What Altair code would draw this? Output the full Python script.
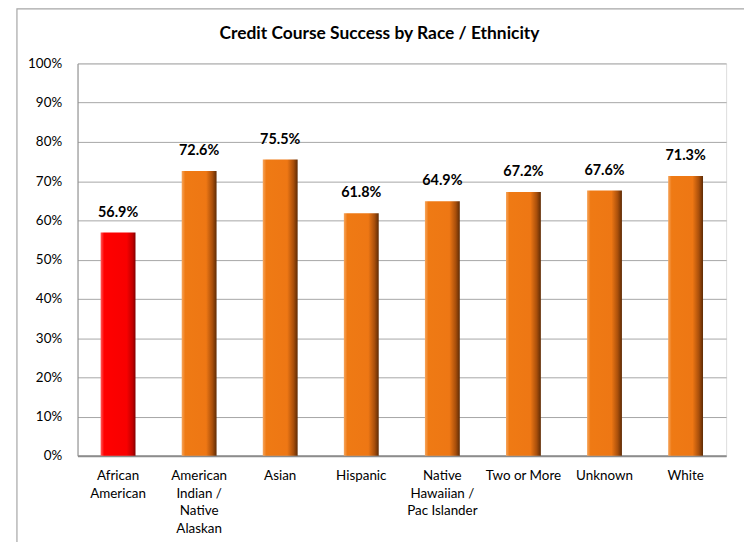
import altair as alt
import pandas as pd

categories = ["African American", "American Indian / Native Alaskan", "Asian", "Hispanic",
              "Native Hawaiian / Pac Islander", "Two or More", "Unknown", "White"]
labels = ["African|American", "American|Indian /|Native|Alaskan", "Asian", "Hispanic",
          "Native|Hawaiian /|Pac Islander", "Two or More", "Unknown", "White"]
values = [0.569, 0.726, 0.755, 0.618, 0.649, 0.672, 0.676, 0.713]
highlight = [True, False, False, False, False, False, False, False]

df = pd.DataFrame({"cat": labels, "value": values, "hl": highlight})
df["txt"] = [f"{v*100:.1f}%" for v in values]

W, H = 653, 395
FONT = "Lato"

x = alt.X("cat:N", sort=labels, title=None,
          scale=alt.Scale(paddingInner=0.57, paddingOuter=0.285),
          axis=alt.Axis(labelAngle=0, labelExpr="split(datum.label, '|')",
                        labelFontSize=13.5, labelLineHeight=17.7, labelPadding=13,
                        labelColor="#000000", labelFont=FONT, ticks=False,
                        domainColor="#8c8c8c", domainWidth=2, labelBaseline="top"))
y = alt.Y("value:Q", title=None,
          scale=alt.Scale(domain=[0, 1], nice=False),
          axis=alt.Axis(format=".0%", values=[i / 10 for i in range(11)],
                        labelFontSize=13.5, labelPadding=16, labelColor="#000000",
                        labelFont=FONT, ticks=False, domainColor="#8c8c8c",
                        gridColor="#a6a6a6", gridWidth=1))

base = alt.Chart(df)

frame = alt.Chart(pd.DataFrame({"a": [0]})).mark_rect(
    fillOpacity=0, stroke="#a6a6a6", strokeWidth=1.2).encode(
    x=alt.value(-61), x2=alt.value(672), y=alt.value(-55), y2=alt.value(H + 100))

orange = alt.Gradient(gradient="linear", x1=0, x2=1, y1=0, y2=0,
                      stops=[alt.GradientStop(offset=0, color="#f6a55c"),
                             alt.GradientStop(offset=0.1, color="#ef7a14"),
                             alt.GradientStop(offset=0.7, color="#ee7714"),
                             alt.GradientStop(offset=0.88, color="#a94f0b"),
                             alt.GradientStop(offset=1, color="#5e2b05")])
red = alt.Gradient(gradient="linear", x1=0, x2=1, y1=0, y2=0,
                   stops=[alt.GradientStop(offset=0, color="#ff5a5a"),
                          alt.GradientStop(offset=0.1, color="#ff0000"),
                          alt.GradientStop(offset=0.75, color="#f80000"),
                          alt.GradientStop(offset=0.92, color="#c00000"),
                          alt.GradientStop(offset=1, color="#800000")])

bars_o = base.transform_filter("!datum.hl").mark_bar(color=orange).encode(x=x, y=y)
bars_r = base.transform_filter("datum.hl").mark_bar(color=red).encode(x=x, y=y)

boxes = base.mark_point(shape="M-1.3,-0.42L1.3,-0.42L1.3,0.42L-1.3,0.42Z", size=420,
                        filled=True, fill="white", opacity=1, yOffset=-20).encode(
    x=x, y=y)
texts = base.mark_text(fontSize=14.5, fontWeight="bold", font=FONT, color="#000000",
                       dy=-20).encode(x=x, y=y, text="txt:N")

title = alt.Chart(pd.DataFrame({"t": ["Credit Course Success by Race / Ethnicity"]})).mark_text(
    fontSize=17.5, fontWeight="bold", font=FONT, color="#000000").encode(
    x=alt.value(304), y=alt.value(-30), text="t:N")

chart = alt.layer(frame, bars_o, bars_r, boxes, texts, title).properties(
    width=W, height=H,
    autosize=alt.AutoSizeParams(type="none"),
    padding={"left": 70, "top": 54, "right": 18, "bottom": 85},
).configure_view(stroke=None).configure(background="white")

chart.save("out.html", embed_options={"renderer": "svg", "actions": False})
